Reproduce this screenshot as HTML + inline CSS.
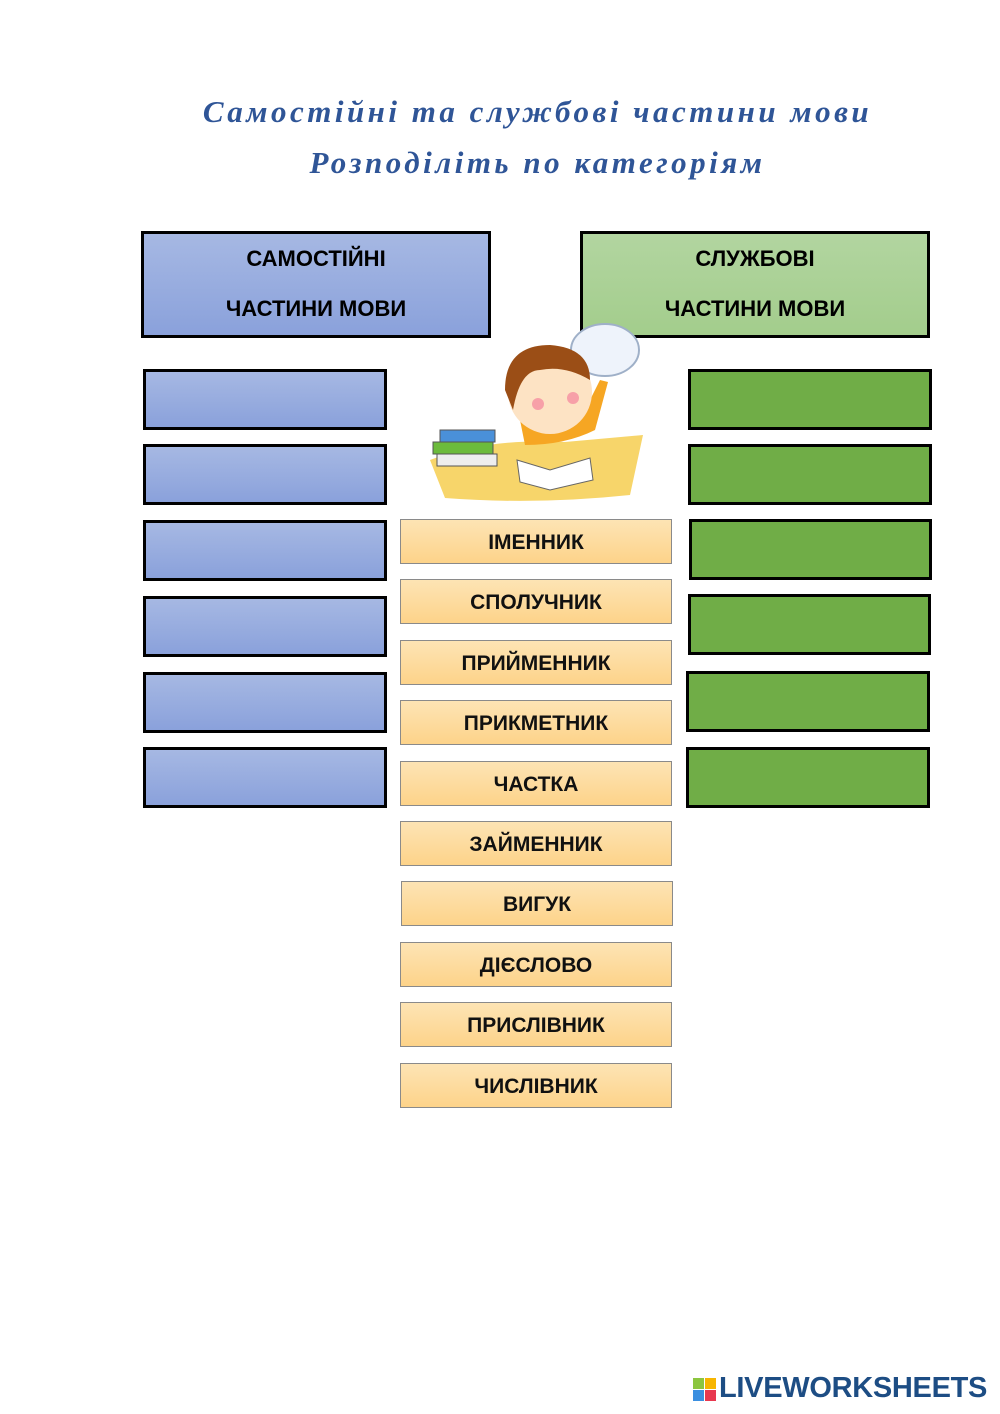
<!DOCTYPE html>
<html><head><meta charset="utf-8"><style>
body{margin:0;width:1000px;height:1414px;background:#fff;position:relative;font-family:"Liberation Sans","DejaVu Sans",sans-serif;overflow:hidden}
.t{position:absolute;left:0;width:1075px;text-align:center;font-family:"Liberation Serif",serif;font-style:italic;font-weight:bold;color:#2f5597;font-size:31px;letter-spacing:3.5px}
.b{position:absolute;box-sizing:border-box;border:3px solid #000}
.bl{background:linear-gradient(#a6b8e3,#8aa1db)}
.gr{background:#70ad47}
.h{font-weight:bold;font-size:22px;text-align:center;line-height:50px;padding-top:0px}
.o{position:absolute;left:400px;width:272px;height:45px;box-sizing:border-box;border:1px solid #8a8a8a;background:linear-gradient(#fde4b4,#fdd38a);text-align:center;line-height:45px;font-weight:bold;font-size:21px;color:#111}
</style></head><body>
<div class="t" style="top:94px">Самостійні та службові частини мови</div>
<div class="t" style="top:145px">Розподіліть по категоріям</div>
<div class="b h" style="left:141px;top:231px;width:350px;height:107px;background:linear-gradient(#a6b8e3,#8aa1db)"><div style="margin-top:0">САМОСТІЙНІ</div><div>ЧАСТИНИ МОВИ</div></div>
<div class="b h" style="left:580px;top:231px;width:350px;height:107px;background:linear-gradient(#b2d5a0,#a3cd8c)"><div>СЛУЖБОВІ</div><div>ЧАСТИНИ МОВИ</div></div>

<div class="b bl" style="left:143px;top:369px;width:244px;height:61px"></div>
<div class="b bl" style="left:143px;top:444px;width:244px;height:61px"></div>
<div class="b bl" style="left:143px;top:520px;width:244px;height:61px"></div>
<div class="b bl" style="left:143px;top:596px;width:244px;height:61px"></div>
<div class="b bl" style="left:143px;top:672px;width:244px;height:61px"></div>
<div class="b bl" style="left:143px;top:747px;width:244px;height:61px"></div>

<div class="b gr" style="left:688px;top:369px;width:244px;height:61px"></div>
<div class="b gr" style="left:688px;top:444px;width:244px;height:61px"></div>
<div class="b gr" style="left:689px;top:519px;width:243px;height:61px"></div>
<div class="b gr" style="left:688px;top:594px;width:243px;height:61px"></div>
<div class="b gr" style="left:686px;top:671px;width:244px;height:61px"></div>
<div class="b gr" style="left:686px;top:747px;width:244px;height:61px"></div>

<svg style="position:absolute;left:425px;top:320px" width="225" height="185" viewBox="0 0 225 185">
<ellipse cx="180" cy="30" rx="34" ry="26" fill="#eef3fb" stroke="#9fb0c8" stroke-width="2"/>
<path d="M5 140 Q60 118 140 122 L218 115 L205 175 Q110 185 20 178 Z" fill="#f7d56a"/>
<rect x="15" y="110" width="55" height="12" fill="#4a90d9" stroke="#555"/>
<rect x="8" y="122" width="60" height="12" fill="#6cbb3c" stroke="#555"/>
<rect x="12" y="134" width="60" height="12" fill="#eee" stroke="#555"/>
<path d="M95 100 Q120 85 160 90 L175 60 L183 62 L170 110 Q140 125 100 125 Z" fill="#f6a623"/>
<circle cx="125" cy="72" r="42" fill="#fde3c4"/>
<path d="M80 70 Q80 25 125 25 Q165 28 165 60 Q140 45 115 50 Q95 50 88 90 Z" fill="#9b4e16"/>
<circle cx="113" cy="84" r="6" fill="#f7a0a8"/><circle cx="148" cy="78" r="6" fill="#f7a0a8"/>
<path d="M92 140 L125 150 L165 138 L168 160 L125 170 L95 162 Z" fill="#fff" stroke="#666"/>
</svg>

<div class="o" style="top:519px">ІМЕННИК</div>
<div class="o" style="top:579px">СПОЛУЧНИК</div>
<div class="o" style="top:640px">ПРИЙМЕННИК</div>
<div class="o" style="top:700px">ПРИКМЕТНИК</div>
<div class="o" style="top:761px">ЧАСТКА</div>
<div class="o" style="top:821px">ЗАЙМЕННИК</div>
<div class="o" style="top:881px;left:401px">ВИГУК</div>
<div class="o" style="top:942px">ДІЄСЛОВО</div>
<div class="o" style="top:1002px">ПРИСЛІВНИК</div>
<div class="o" style="top:1063px">ЧИСЛІВНИК</div>

<div style="position:absolute;left:693px;top:1378px;width:24px;height:24px">
<div style="position:absolute;left:0;top:0;width:11px;height:11px;background:#8cc63f"></div>
<div style="position:absolute;left:12px;top:0;width:11px;height:11px;background:#f7b500"></div>
<div style="position:absolute;left:0;top:12px;width:11px;height:11px;background:#3b8fe0"></div>
<div style="position:absolute;left:12px;top:12px;width:11px;height:11px;background:#e8384f"></div>
</div>
<div style="position:absolute;left:719px;top:1372px;font-weight:bold;font-size:29px;color:#1d4d84;letter-spacing:-0.3px">LIVEWORKSHEETS</div>
</body></html>
